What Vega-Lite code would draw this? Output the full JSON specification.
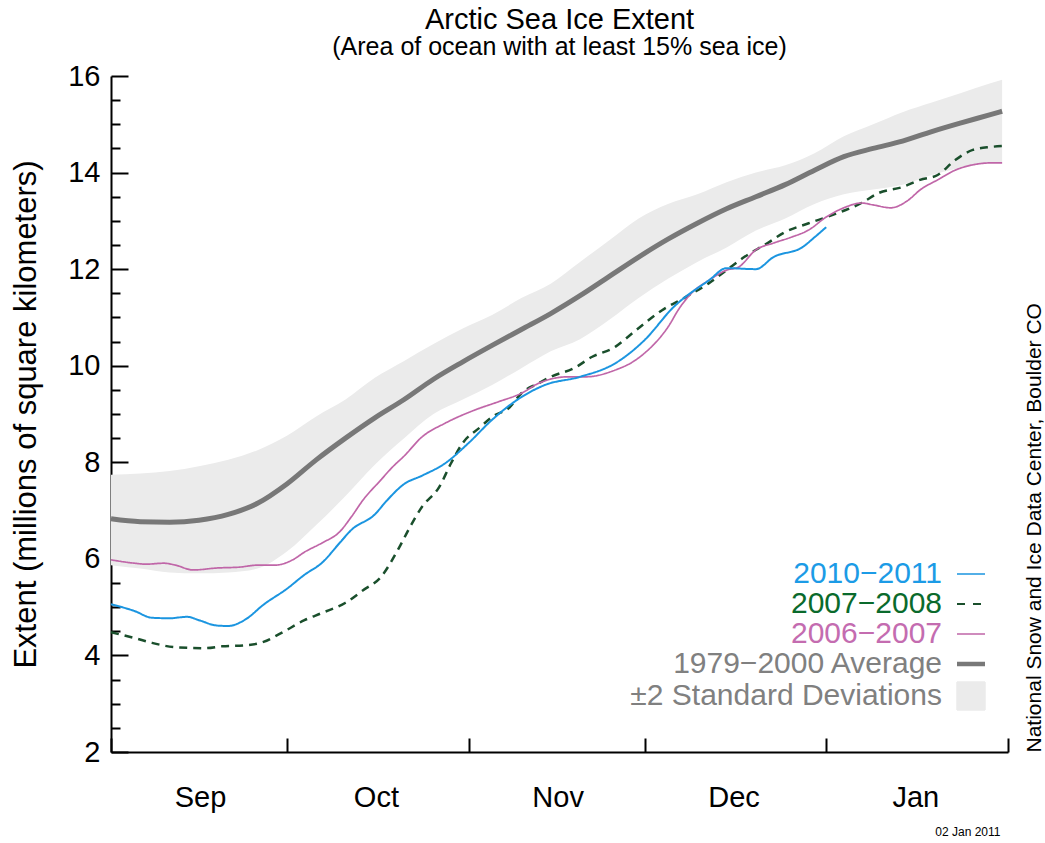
{
  "$schema": "https://vega.github.io/schema/vega-lite/v6.json",
  "width": 897,
  "height": 676,
  "autosize": {"type": "none"},
  "padding": {"left": 111, "top": 76, "right": 37, "bottom": 91},
  "background": "white",
  "config": {
    "font": "Liberation Sans",
    "view": {"stroke": null},
    "axis": {
      "grid": false,
      "domainColor": "#000000",
      "domainWidth": 2,
      "tickColor": "#000000",
      "tickWidth": 2,
      "labelColor": "#000000",
      "titleColor": "#000000",
      "labelFont": "Liberation Sans",
      "titleFont": "Liberation Sans",
      "titleFontWeight": "normal"
    }
  },
  "title": {
    "text": "Arctic Sea Ice Extent",
    "subtitle": "(Area of ocean with at least 15% sea ice)",
    "font": "Liberation Sans",
    "subtitleFont": "Liberation Sans",
    "fontSize": 29,
    "fontWeight": "normal",
    "color": "#000000",
    "subtitleFontSize": 25,
    "subtitleColor": "#000000",
    "subtitlePadding": 0,
    "anchor": "middle",
    "offset": 2
  },
  "datasets": {
    "band": [
      {"date": "2010-09-01", "series": "±2 Standard Deviations", "low": 5.87, "high": 7.74},
      {"date": "2010-09-06", "series": "±2 Standard Deviations", "low": 5.8, "high": 7.77},
      {"date": "2010-09-11", "series": "±2 Standard Deviations", "low": 5.72, "high": 7.82},
      {"date": "2010-09-16", "series": "±2 Standard Deviations", "low": 5.7, "high": 7.92},
      {"date": "2010-09-21", "series": "±2 Standard Deviations", "low": 5.72, "high": 8.05},
      {"date": "2010-09-26", "series": "±2 Standard Deviations", "low": 5.8, "high": 8.25},
      {"date": "2010-10-01", "series": "±2 Standard Deviations", "low": 6.15, "high": 8.55},
      {"date": "2010-10-06", "series": "±2 Standard Deviations", "low": 6.7, "high": 8.95},
      {"date": "2010-10-11", "series": "±2 Standard Deviations", "low": 7.3, "high": 9.3},
      {"date": "2010-10-16", "series": "±2 Standard Deviations", "low": 7.95, "high": 9.75},
      {"date": "2010-10-21", "series": "±2 Standard Deviations", "low": 8.5, "high": 10.1},
      {"date": "2010-10-26", "series": "±2 Standard Deviations", "low": 9.0, "high": 10.45},
      {"date": "2010-10-31", "series": "±2 Standard Deviations", "low": 9.3, "high": 10.77},
      {"date": "2010-11-05", "series": "±2 Standard Deviations", "low": 9.6, "high": 11.05},
      {"date": "2010-11-10", "series": "±2 Standard Deviations", "low": 9.95, "high": 11.4},
      {"date": "2010-11-15", "series": "±2 Standard Deviations", "low": 10.3, "high": 11.7},
      {"date": "2010-11-20", "series": "±2 Standard Deviations", "low": 10.55, "high": 12.15},
      {"date": "2010-11-25", "series": "±2 Standard Deviations", "low": 10.95, "high": 12.6},
      {"date": "2010-11-30", "series": "±2 Standard Deviations", "low": 11.4, "high": 13.05},
      {"date": "2010-12-05", "series": "±2 Standard Deviations", "low": 11.8, "high": 13.35},
      {"date": "2010-12-10", "series": "±2 Standard Deviations", "low": 12.15, "high": 13.55},
      {"date": "2010-12-15", "series": "±2 Standard Deviations", "low": 12.45, "high": 13.8},
      {"date": "2010-12-20", "series": "±2 Standard Deviations", "low": 12.8, "high": 14.0},
      {"date": "2010-12-25", "series": "±2 Standard Deviations", "low": 13.05, "high": 14.15},
      {"date": "2010-12-30", "series": "±2 Standard Deviations", "low": 13.35, "high": 14.4},
      {"date": "2011-01-04", "series": "±2 Standard Deviations", "low": 13.55, "high": 14.75},
      {"date": "2011-01-09", "series": "±2 Standard Deviations", "low": 13.65, "high": 15.0},
      {"date": "2011-01-14", "series": "±2 Standard Deviations", "low": 13.75, "high": 15.25},
      {"date": "2011-01-19", "series": "±2 Standard Deviations", "low": 13.95, "high": 15.45},
      {"date": "2011-01-24", "series": "±2 Standard Deviations", "low": 14.1, "high": 15.65},
      {"date": "2011-01-29", "series": "±2 Standard Deviations", "low": 14.2, "high": 15.85},
      {"date": "2011-01-31", "series": "±2 Standard Deviations", "low": 14.22, "high": 15.92}
    ],
    "average": [
      {"date": "2010-09-01", "series": "1979−2000 Average", "extent": 6.83},
      {"date": "2010-09-06", "series": "1979−2000 Average", "extent": 6.77},
      {"date": "2010-09-11", "series": "1979−2000 Average", "extent": 6.76},
      {"date": "2010-09-16", "series": "1979−2000 Average", "extent": 6.8},
      {"date": "2010-09-21", "series": "1979−2000 Average", "extent": 6.92},
      {"date": "2010-09-26", "series": "1979−2000 Average", "extent": 7.15},
      {"date": "2010-10-01", "series": "1979−2000 Average", "extent": 7.55},
      {"date": "2010-10-06", "series": "1979−2000 Average", "extent": 8.05},
      {"date": "2010-10-11", "series": "1979−2000 Average", "extent": 8.5},
      {"date": "2010-10-16", "series": "1979−2000 Average", "extent": 8.92},
      {"date": "2010-10-21", "series": "1979−2000 Average", "extent": 9.3},
      {"date": "2010-10-26", "series": "1979−2000 Average", "extent": 9.72},
      {"date": "2010-10-31", "series": "1979−2000 Average", "extent": 10.08},
      {"date": "2010-11-05", "series": "1979−2000 Average", "extent": 10.42},
      {"date": "2010-11-10", "series": "1979−2000 Average", "extent": 10.75},
      {"date": "2010-11-15", "series": "1979−2000 Average", "extent": 11.08},
      {"date": "2010-11-20", "series": "1979−2000 Average", "extent": 11.45},
      {"date": "2010-11-25", "series": "1979−2000 Average", "extent": 11.85},
      {"date": "2010-11-30", "series": "1979−2000 Average", "extent": 12.25},
      {"date": "2010-12-05", "series": "1979−2000 Average", "extent": 12.62},
      {"date": "2010-12-10", "series": "1979−2000 Average", "extent": 12.95},
      {"date": "2010-12-15", "series": "1979−2000 Average", "extent": 13.25},
      {"date": "2010-12-20", "series": "1979−2000 Average", "extent": 13.5},
      {"date": "2010-12-25", "series": "1979−2000 Average", "extent": 13.75},
      {"date": "2010-12-30", "series": "1979−2000 Average", "extent": 14.05},
      {"date": "2011-01-04", "series": "1979−2000 Average", "extent": 14.33},
      {"date": "2011-01-09", "series": "1979−2000 Average", "extent": 14.5},
      {"date": "2011-01-14", "series": "1979−2000 Average", "extent": 14.65},
      {"date": "2011-01-19", "series": "1979−2000 Average", "extent": 14.85},
      {"date": "2011-01-24", "series": "1979−2000 Average", "extent": 15.03},
      {"date": "2011-01-29", "series": "1979−2000 Average", "extent": 15.2},
      {"date": "2011-01-31", "series": "1979−2000 Average", "extent": 15.27}
    ],
    "seasons": [
      {"date": "2010-09-01", "series": "2007−2008", "extent": 4.48},
      {"date": "2010-09-05", "series": "2007−2008", "extent": 4.36},
      {"date": "2010-09-08", "series": "2007−2008", "extent": 4.26},
      {"date": "2010-09-12", "series": "2007−2008", "extent": 4.17},
      {"date": "2010-09-17", "series": "2007−2008", "extent": 4.15},
      {"date": "2010-09-20", "series": "2007−2008", "extent": 4.19},
      {"date": "2010-09-24", "series": "2007−2008", "extent": 4.21},
      {"date": "2010-09-27", "series": "2007−2008", "extent": 4.28},
      {"date": "2010-09-30", "series": "2007−2008", "extent": 4.46},
      {"date": "2010-10-04", "series": "2007−2008", "extent": 4.73},
      {"date": "2010-10-07", "series": "2007−2008", "extent": 4.88},
      {"date": "2010-10-11", "series": "2007−2008", "extent": 5.09},
      {"date": "2010-10-14", "series": "2007−2008", "extent": 5.35},
      {"date": "2010-10-17", "series": "2007−2008", "extent": 5.62},
      {"date": "2010-10-20", "series": "2007−2008", "extent": 6.2},
      {"date": "2010-10-22", "series": "2007−2008", "extent": 6.66},
      {"date": "2010-10-24", "series": "2007−2008", "extent": 7.07},
      {"date": "2010-10-27", "series": "2007−2008", "extent": 7.49},
      {"date": "2010-10-29", "series": "2007−2008", "extent": 7.98},
      {"date": "2010-10-31", "series": "2007−2008", "extent": 8.4},
      {"date": "2010-11-03", "series": "2007−2008", "extent": 8.73},
      {"date": "2010-11-05", "series": "2007−2008", "extent": 8.94},
      {"date": "2010-11-08", "series": "2007−2008", "extent": 9.14},
      {"date": "2010-11-10", "series": "2007−2008", "extent": 9.43},
      {"date": "2010-11-13", "series": "2007−2008", "extent": 9.64},
      {"date": "2010-11-15", "series": "2007−2008", "extent": 9.77},
      {"date": "2010-11-19", "series": "2007−2008", "extent": 9.95},
      {"date": "2010-11-22", "series": "2007−2008", "extent": 10.18},
      {"date": "2010-11-26", "series": "2007−2008", "extent": 10.39},
      {"date": "2010-11-29", "series": "2007−2008", "extent": 10.68},
      {"date": "2010-12-04", "series": "2007−2008", "extent": 11.15},
      {"date": "2010-12-08", "series": "2007−2008", "extent": 11.42},
      {"date": "2010-12-12", "series": "2007−2008", "extent": 11.71},
      {"date": "2010-12-15", "series": "2007−2008", "extent": 11.98},
      {"date": "2010-12-18", "series": "2007−2008", "extent": 12.25},
      {"date": "2010-12-22", "series": "2007−2008", "extent": 12.54},
      {"date": "2010-12-25", "series": "2007−2008", "extent": 12.77},
      {"date": "2010-12-29", "series": "2007−2008", "extent": 12.95},
      {"date": "2011-01-02", "series": "2007−2008", "extent": 13.12},
      {"date": "2011-01-07", "series": "2007−2008", "extent": 13.37},
      {"date": "2011-01-10", "series": "2007−2008", "extent": 13.58},
      {"date": "2011-01-14", "series": "2007−2008", "extent": 13.7},
      {"date": "2011-01-17", "series": "2007−2008", "extent": 13.85},
      {"date": "2011-01-20", "series": "2007−2008", "extent": 13.95},
      {"date": "2011-01-23", "series": "2007−2008", "extent": 14.26},
      {"date": "2011-01-26", "series": "2007−2008", "extent": 14.47},
      {"date": "2011-01-29", "series": "2007−2008", "extent": 14.53},
      {"date": "2011-01-31", "series": "2007−2008", "extent": 14.55},

      {"date": "2010-09-01", "series": "2006−2007", "extent": 5.98},
      {"date": "2010-09-05", "series": "2006−2007", "extent": 5.91},
      {"date": "2010-09-07", "series": "2006−2007", "extent": 5.89},
      {"date": "2010-09-10", "series": "2006−2007", "extent": 5.91},
      {"date": "2010-09-12", "series": "2006−2007", "extent": 5.87},
      {"date": "2010-09-15", "series": "2006−2007", "extent": 5.77},
      {"date": "2010-09-19", "series": "2006−2007", "extent": 5.81},
      {"date": "2010-09-23", "series": "2006−2007", "extent": 5.83},
      {"date": "2010-09-26", "series": "2006−2007", "extent": 5.87},
      {"date": "2010-09-29", "series": "2006−2007", "extent": 5.87},
      {"date": "2010-10-02", "series": "2006−2007", "extent": 5.98},
      {"date": "2010-10-04", "series": "2006−2007", "extent": 6.14},
      {"date": "2010-10-07", "series": "2006−2007", "extent": 6.33},
      {"date": "2010-10-10", "series": "2006−2007", "extent": 6.56},
      {"date": "2010-10-12", "series": "2006−2007", "extent": 6.87},
      {"date": "2010-10-14", "series": "2006−2007", "extent": 7.22},
      {"date": "2010-10-17", "series": "2006−2007", "extent": 7.63},
      {"date": "2010-10-19", "series": "2006−2007", "extent": 7.9},
      {"date": "2010-10-21", "series": "2006−2007", "extent": 8.13},
      {"date": "2010-10-24", "series": "2006−2007", "extent": 8.52},
      {"date": "2010-10-28", "series": "2006−2007", "extent": 8.81},
      {"date": "2010-11-02", "series": "2006−2007", "extent": 9.08},
      {"date": "2010-11-06", "series": "2006−2007", "extent": 9.25},
      {"date": "2010-11-10", "series": "2006−2007", "extent": 9.43},
      {"date": "2010-11-13", "series": "2006−2007", "extent": 9.64},
      {"date": "2010-11-18", "series": "2006−2007", "extent": 9.77},
      {"date": "2010-11-21", "series": "2006−2007", "extent": 9.77},
      {"date": "2010-11-26", "series": "2006−2007", "extent": 9.91},
      {"date": "2010-11-29", "series": "2006−2007", "extent": 10.08},
      {"date": "2010-12-01", "series": "2006−2007", "extent": 10.26},
      {"date": "2010-12-05", "series": "2006−2007", "extent": 10.8},
      {"date": "2010-12-07", "series": "2006−2007", "extent": 11.2},
      {"date": "2010-12-09", "series": "2006−2007", "extent": 11.5},
      {"date": "2010-12-12", "series": "2006−2007", "extent": 11.77},
      {"date": "2010-12-15", "series": "2006−2007", "extent": 11.98},
      {"date": "2010-12-17", "series": "2006−2007", "extent": 12.04},
      {"date": "2010-12-20", "series": "2006−2007", "extent": 12.4},
      {"date": "2010-12-23", "series": "2006−2007", "extent": 12.54},
      {"date": "2010-12-26", "series": "2006−2007", "extent": 12.66},
      {"date": "2010-12-29", "series": "2006−2007", "extent": 12.81},
      {"date": "2011-01-01", "series": "2006−2007", "extent": 13.08},
      {"date": "2011-01-04", "series": "2006−2007", "extent": 13.27},
      {"date": "2011-01-07", "series": "2006−2007", "extent": 13.37},
      {"date": "2011-01-09", "series": "2006−2007", "extent": 13.33},
      {"date": "2011-01-12", "series": "2006−2007", "extent": 13.27},
      {"date": "2011-01-15", "series": "2006−2007", "extent": 13.43},
      {"date": "2011-01-17", "series": "2006−2007", "extent": 13.64},
      {"date": "2011-01-20", "series": "2006−2007", "extent": 13.85},
      {"date": "2011-01-23", "series": "2006−2007", "extent": 14.05},
      {"date": "2011-01-26", "series": "2006−2007", "extent": 14.16},
      {"date": "2011-01-29", "series": "2006−2007", "extent": 14.2},
      {"date": "2011-01-31", "series": "2006−2007", "extent": 14.2},

      {"date": "2010-09-01", "series": "2010−2011", "extent": 5.06},
      {"date": "2010-09-05", "series": "2010−2011", "extent": 4.92},
      {"date": "2010-09-08", "series": "2010−2011", "extent": 4.78},
      {"date": "2010-09-11", "series": "2010−2011", "extent": 4.77},
      {"date": "2010-09-14", "series": "2010−2011", "extent": 4.8},
      {"date": "2010-09-16", "series": "2010−2011", "extent": 4.73},
      {"date": "2010-09-19", "series": "2010−2011", "extent": 4.62},
      {"date": "2010-09-21", "series": "2010−2011", "extent": 4.61},
      {"date": "2010-09-24", "series": "2010−2011", "extent": 4.75},
      {"date": "2010-09-27", "series": "2010−2011", "extent": 5.05},
      {"date": "2010-10-01", "series": "2010−2011", "extent": 5.38},
      {"date": "2010-10-04", "series": "2010−2011", "extent": 5.67},
      {"date": "2010-10-07", "series": "2010−2011", "extent": 5.92},
      {"date": "2010-10-10", "series": "2010−2011", "extent": 6.33},
      {"date": "2010-10-12", "series": "2010−2011", "extent": 6.6},
      {"date": "2010-10-16", "series": "2010−2011", "extent": 6.92},
      {"date": "2010-10-18", "series": "2010−2011", "extent": 7.2},
      {"date": "2010-10-21", "series": "2010−2011", "extent": 7.55},
      {"date": "2010-10-24", "series": "2010−2011", "extent": 7.72},
      {"date": "2010-10-28", "series": "2010−2011", "extent": 7.98},
      {"date": "2010-11-01", "series": "2010−2011", "extent": 8.4},
      {"date": "2010-11-05", "series": "2010−2011", "extent": 8.88},
      {"date": "2010-11-10", "series": "2010−2011", "extent": 9.35},
      {"date": "2010-11-14", "series": "2010−2011", "extent": 9.6},
      {"date": "2010-11-20", "series": "2010−2011", "extent": 9.77},
      {"date": "2010-11-26", "series": "2010−2011", "extent": 10.05},
      {"date": "2010-12-01", "series": "2010−2011", "extent": 10.53},
      {"date": "2010-12-06", "series": "2010−2011", "extent": 11.22},
      {"date": "2010-12-12", "series": "2010−2011", "extent": 11.77},
      {"date": "2010-12-15", "series": "2010−2011", "extent": 12.02},
      {"date": "2010-12-20", "series": "2010−2011", "extent": 12.0},
      {"date": "2010-12-23", "series": "2010−2011", "extent": 12.25},
      {"date": "2010-12-28", "series": "2010−2011", "extent": 12.46},
      {"date": "2010-12-30", "series": "2010−2011", "extent": 12.66},
      {"date": "2011-01-01", "series": "2010−2011", "extent": 12.87}
    ]
  },
  "encoding": {
    "x": {
      "field": "date",
      "type": "temporal",
      "scale": {
        "type": "utc",
        "domain": [
          {"year": 2010, "month": 9, "date": 1, "utc": true},
          {"year": 2011, "month": 2, "date": 1, "utc": true}
        ]
      },
      "axis": {
        "values": [
          {"year": 2010, "month": 9, "date": 1, "utc": true},
          {"year": 2010, "month": 10, "date": 1, "utc": true},
          {"year": 2010, "month": 11, "date": 1, "utc": true},
          {"year": 2010, "month": 12, "date": 1, "utc": true},
          {"year": 2011, "month": 1, "date": 1, "utc": true},
          {"year": 2011, "month": 2, "date": 1, "utc": true}
        ],
        "tickSize": -14,
        "labelPadding": 45,
        "labelOffset": 89,
        "labelFontSize": 29,
        "labelFlush": false,
        "labelOverlap": false,
        "labelBound": false,
        "labelExpr": "utcmonth(datum.value) === 1 ? '' : utcFormat(datum.value, '%b')",
        "title": "02 Jan 2011",
        "titleFontSize": 12,
        "titleX": 889,
        "titleAlign": "right",
        "titlePadding": 14
      }
    }
  },
  "layer": [
    {
      "data": {"name": "band"},
      "mark": {"type": "area", "interpolate": "monotone", "opacity": 1},
      "encoding": {
        "y": {
          "field": "low",
          "type": "quantitative",
          "scale": {"domain": [2, 16], "nice": false, "zero": false},
          "axis": {
            "orient": "right",
            "domain": false,
            "ticks": false,
            "labels": false,
            "title": "National Snow and Ice Data Center, Boulder CO",
            "titleFontSize": 21,
            "titleAngle": 270,
            "titleAnchor": "start",
            "titlePadding": 36
          }
        },
        "y2": {"field": "high"},
        "color": {"field": "series", "type": "nominal"}
      }
    },
    {
      "data": {"name": "average"},
      "mark": {"type": "line", "interpolate": "monotone", "strokeWidth": 5, "strokeCap": "butt"},
      "encoding": {
        "y": {
          "field": "extent",
          "type": "quantitative",
          "scale": {"domain": [2, 16], "nice": false, "zero": false},
          "axis": {
            "orient": "left",
            "values": [2, 4, 6, 8, 10, 12, 14, 16],
            "tickSize": -17,
            "labelPadding": 28,
            "labelFontSize": 29,
            "title": "Extent (millions of square kilometers)",
            "titleFontSize": 31,
            "titlePadding": 25
          }
        },
        "color": {"field": "series", "type": "nominal"}
      }
    },
    {
      "data": {"name": "seasons"},
      "mark": {"type": "line", "interpolate": "monotone"},
      "encoding": {
        "y": {
          "field": "extent",
          "type": "quantitative",
          "scale": {"domain": [2, 16], "nice": false, "zero": false},
          "axis": {
            "orient": "left",
            "values": [2.5, 3, 3.5, 4.5, 5, 5.5, 6.5, 7, 7.5, 8.5, 9, 9.5, 10.5, 11, 11.5, 12.5, 13, 13.5, 14.5, 15, 15.5],
            "tickSize": -9,
            "labels": false,
            "domain": false,
            "title": null
          }
        },
        "strokeDash": {
          "condition": {"test": "datum.series === '2007−2008'", "value": [8, 6]},
          "value": [1, 0]
        },
        "strokeWidth": {
          "condition": [
            {"test": "datum.series === '2007−2008'", "value": 2.5},
            {"test": "datum.series === '2006−2007'", "value": 1.7}
          ],
          "value": 2
        },
        "color": {
          "field": "series",
          "type": "nominal",
          "scale": {
            "domain": ["2010−2011", "2007−2008", "2006−2007", "1979−2000 Average", "±2 Standard Deviations"],
            "range": ["#1b95e0", "#1a4f2c", "#c066a8", "#787878", "#ebebeb"]
          },
          "legend": {
            "orient": "none",
            "legendX": 845,
            "legendY": 483,
            "title": null,
            "padding": 0,
            "rowPadding": 0,
            "labelFont": "Liberation Sans",
            "labelFontSize": 30,
            "labelAlign": "right",
            "labelOffset": -44,
            "labelLimit": 500,
            "symbolType": "stroke",
            "symbolSize": 784,
            "encode": {
              "symbols": {
                "update": {
                  "shape": {"signal": "datum.value === '±2 Standard Deviations' ? 'square' : 'stroke'"},
                  "size": {"value": 784},
                  "fill": {"signal": "datum.value === '±2 Standard Deviations' ? '#e6e6e6' : 'transparent'"},
                  "stroke": {"signal": "datum.value === '±2 Standard Deviations' ? 'transparent' : scale('color', datum.value)"},
                  "strokeWidth": {"signal": "datum.value === '1979−2000 Average' ? 4.5 : datum.value === '2007−2008' ? 2 : 1.5"},
                  "strokeDash": {"signal": "datum.value === '2007−2008' ? [8, 8] : [1, 0]"},
                  "opacity": {"value": 1}
                }
              },
              "labels": {
                "update": {
                  "fill": {"signal": "datum.value === '2010−2011' ? '#1c9be6' : datum.value === '2007−2008' ? '#0a6a2c' : datum.value === '2006−2007' ? '#c46cb0' : '#808080'"}
                }
              }
            }
          }
        }
      }
    }
  ],
  "resolve": {"axis": {"y": "independent"}}
}
